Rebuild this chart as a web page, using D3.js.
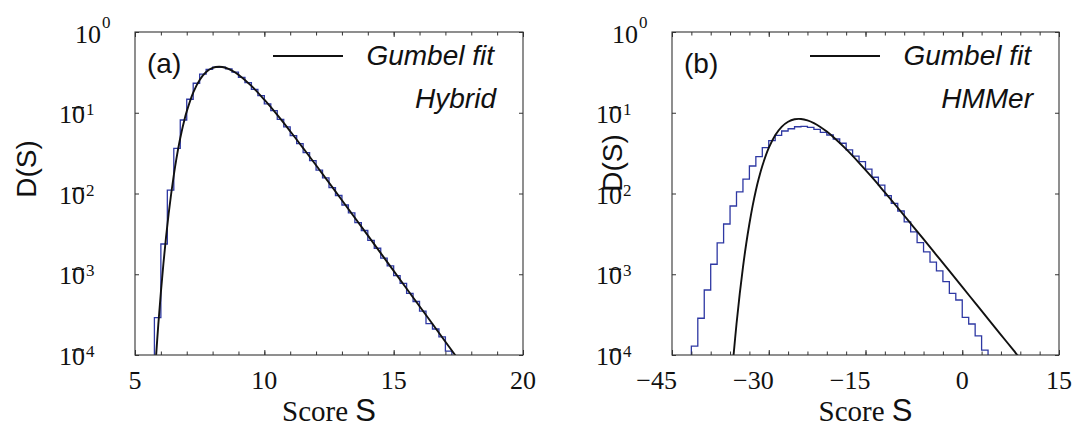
<!DOCTYPE html>
<html><head><meta charset="utf-8">
<script src="https://cdn.jsdelivr.net/npm/d3@7"></script>
<style>body{margin:0;background:#fff}</style>
</head><body>
<svg id="c" width="1074" height="430"></svg>
<script>
// ---------- data ----------
const histA_bins = [5.75,6.00,6.25,6.50,6.75,7.00,7.25,7.50,7.75,8.00,8.25,8.50,8.75,9.00,9.25,9.50,9.75,10.00,10.25,10.50,10.75,11.00,11.25,11.50,11.75,12.00,12.25,12.50,12.75,13.00,13.25,13.50,13.75,14.00,14.25,14.50,14.75,15.00,15.25,15.50,15.75,16.00,16.25,16.50,16.75,17.00];
const histA_width = 0.25;
const histA_D = [2.9e-4,2.37e-3,1.1e-2,3.63e-2,8.13e-2,0.147,0.232,0.300,0.345,0.366,0.368,0.350,0.318,0.274,0.236,0.195,0.163,0.129,0.106,0.0830,0.0668,0.0520,0.0415,0.0320,0.0256,0.0195,0.0156,0.0118,0.00945,0.00720,0.00575,0.00435,0.00348,0.00262,0.00210,0.00158,0.00127,9.6e-4,7.7e-4,5.8e-4,4.6e-4,3.5e-4,2.45e-4,2.1e-4,1.68e-4,1.12e-4];
const fitA_S = [5.8,5.9,6.0,6.1,6.2,6.3,6.4,6.5,6.6,6.7,6.8,6.9,7.0,7.25,7.5,7.75,8.0,8.25,8.5,8.75,9.0,9.5,10,10.5,11,11.5,12,13,14,15,16,17,17.5];
const fitA_D = [8.3e-5,2.36e-4,5.97e-4,1.37e-3,2.88e-3,5.58e-3,1.0e-2,1.69e-2,2.68e-2,4.04e-2,5.78e-2,7.91e-2,0.104,0.178,0.255,0.319,0.359,0.372,0.361,0.333,0.296,0.215,0.145,0.0939,0.059,0.0365,0.0224,8.26e-3,3.03e-3,1.10e-3,4.02e-4,1.46e-4,8.8e-5];

const histB_bins = [-42,-41,-40,-39,-38,-37,-36,-35,-34,-33,-32,-31,-30,-29,-28,-27,-26,-25,-24,-23,-22,-21,-20,-19,-18,-17,-16,-15,-14,-13,-12,-11,-10,-9,-8,-7,-6,-5,-4,-3,-2,-1,0,1,2,3];
const histB_width = 1;
const histB_D = [1.29e-4,2.85e-4,6.38e-4,1.33e-3,2.44e-3,4.19e-3,7.0e-3,1.05e-2,1.51e-2,2.19e-2,2.86e-2,3.69e-2,4.51e-2,5.26e-2,5.94e-2,6.34e-2,6.71e-2,6.79e-2,6.6e-2,6.24e-2,5.73e-2,5.3e-2,4.73e-2,4.19e-2,3.46e-2,2.91e-2,2.48e-2,2.0e-2,1.59e-2,1.27e-2,9.4e-3,7.56e-3,6.07e-3,4.44e-3,3.34e-3,2.47e-3,1.89e-3,1.41e-3,1.1e-3,8.09e-4,5.81e-4,4.8e-4,2.93e-4,2.42e-4,1.73e-4,1.15e-4];
const fitB_S = [-35.5,-35,-34.5,-34,-33.5,-33,-32.5,-32,-31.5,-31,-30,-29,-28,-27,-26,-25,-24,-23,-22,-21,-20,-18,-16,-14,-12,-10,-8,-6,-4,-2,0,2,4,6,8,8.5,9];
const fitB_D = [9.1e-5,2.42e-4,5.73e-4,1.22e-3,2.37e-3,4.22e-3,7.02e-3,1.09e-2,1.585e-2,2.19e-2,3.66e-2,5.27e-2,6.7e-2,7.74e-2,8.30e-2,8.37e-2,8.04e-2,7.44e-2,6.67e-2,5.84e-2,5.01e-2,3.54e-2,2.40e-2,1.59e-2,1.03e-2,6.66e-3,4.26e-3,2.72e-3,1.73e-3,1.10e-3,6.98e-4,4.42e-4,2.80e-4,1.78e-4,1.13e-4,1.005e-4,8.97e-5];

const xDomainA = [5,20], xDomainB = [-45,15];
const xTicksA = [5,10,15,20], xMinorA = [5,6,7,8,9,10,11,12,13,14,15,16,17,18,19,20];
const xTicksB = [-45,-30,-15,0,15], xMinorB = [-45,-42,-39,-36,-33,-30,-27,-24,-21,-18,-15,-12,-9,-6,-3,0,3,6,9,12,15];
const yExps = [0,-1,-2,-3,-4];
const yDomain = [1e-4,1];
const legendText = "Gumbel fit";
const panelTags = ["(a)","(b)"];
const methodNames = ["Hybrid","HMMer"];
const yTitle = "D(S)";
const xTitleWord = "Score ", xTitleSym = "S";

// ---------- drawing ----------
const svg = d3.select("#c");
const SERIF = "'Liberation Serif','Times New Roman',serif";
const SANS = "'Liberation Sans',Arial,Helvetica,sans-serif";
const BLUE = "#2e38a3";

function panel(o){
  const x = d3.scaleLinear().domain(o.xDomain).range(o.xRange);
  const y = d3.scaleLog().domain(yDomain).range([355,32]);
  const [L,R] = o.xRange, [B,T] = y.range();
  const g = svg.append("g");
  const cid = "clip"+o.id;
  svg.append("clipPath").attr("id",cid).append("rect")
    .attr("x",L).attr("y",T).attr("width",R-L).attr("height",B-T);

  // histogram (step outline)
  const pts = [[x(o.bins[0]),B]];
  o.bins.forEach((b,i)=>{ pts.push([x(b),y(o.hist[i])]); pts.push([x(b+o.bw),y(o.hist[i])]); });
  pts.push([x(o.bins[o.bins.length-1]+o.bw),B]);
  g.append("path").attr("clip-path",`url(#${cid})`)
    .attr("d",d3.line()(pts)).attr("fill","none").attr("stroke",BLUE).attr("stroke-width",1.3);

  // fit curve
  const line = d3.line().x((d,i)=>x(o.fitS[i])).y((d,i)=>y(o.fitD[i])).curve(d3.curveCatmullRom.alpha(0.5));
  g.append("path").attr("clip-path",`url(#${cid})`)
    .attr("d",line(o.fitS)).attr("fill","none").attr("stroke","#111").attr("stroke-width",1.9);

  // frame
  g.append("rect").attr("x",L).attr("y",T).attr("width",R-L).attr("height",B-T)
    .attr("fill","none").attr("stroke","#333").attr("stroke-width",1.1);

  // ticks (inward) via axes
  const tk = (sel)=>{ sel.select(".domain").remove(); sel.selectAll("line").attr("stroke","#333"); sel.selectAll("text").remove(); };
  g.append("g").attr("transform",`translate(0,${B})`).call(d3.axisBottom(x).tickValues(o.xMinor).tickSizeInner(-3.5).tickSizeOuter(0)).call(tk);
  g.append("g").attr("transform",`translate(0,${B})`).call(d3.axisBottom(x).tickValues(o.xTicks).tickSizeInner(-5).tickSizeOuter(0)).call(tk);
  g.append("g").attr("transform",`translate(0,${T})`).call(d3.axisTop(x).tickValues(o.xMinor).tickSizeInner(-3.5).tickSizeOuter(0)).call(tk);
  g.append("g").attr("transform",`translate(0,${T})`).call(d3.axisTop(x).tickValues(o.xTicks).tickSizeInner(-5).tickSizeOuter(0)).call(tk);
  const decs = yExps.map(e=>Math.pow(10,e));
  g.append("g").attr("transform",`translate(${L},0)`).call(d3.axisLeft(y).tickValues(decs).tickSizeInner(-4).tickSizeOuter(0)).call(tk);
  g.append("g").attr("transform",`translate(${R},0)`).call(d3.axisRight(y).tickValues(decs).tickSizeInner(-4).tickSizeOuter(0)).call(tk);

  // x tick labels
  o.xTicks.forEach(v=>{
    const neg = v<0;
    g.append("text").attr("x",x(v)+(neg?5:0)).attr("y",389)
      .attr("text-anchor",neg?"end":"middle").attr("font-family",SERIF).attr("font-size",26).attr("fill","#111")
      .text(neg?("\u2212"+Math.abs(v)):String(v));
  });

  // y tick labels 10^e; the exponent's minus is drawn as a bar over the 0
  yExps.forEach(e=>{
    const yt = y(Math.pow(10,e));
    const x0 = e===0 ? L-60 : L-76;
    g.append("text").attr("x",x0).attr("y",yt+(e===0?11:10)).attr("text-anchor","start")
      .attr("font-family",SERIF).attr("font-size",26).attr("fill","#111").text("10");
    if(e!==0){
      g.append("line").attr("x1",x0+13).attr("x2",x0+25).attr("y1",yt-5).attr("y2",yt-5)
        .attr("stroke","#111").attr("stroke-width",1.4);
    }
    g.append("text").attr("x",x0+27).attr("y",yt+(e===0?-4:2)).attr("text-anchor","start")
      .attr("font-family",SERIF).attr("font-size",17).attr("fill","#111").text(String(Math.abs(e)));
  });

  // y title
  g.append("text").attr("transform",`translate(${o.yTitleX},${o.yTitleY}) rotate(-90)`)
    .attr("text-anchor","middle").attr("font-family",SANS).attr("font-size",28).attr("fill","#111").text(yTitle);

  // x title
  const xt = g.append("text").attr("x",(L+R)/2).attr("y",421).attr("text-anchor","middle").attr("fill","#111");
  xt.append("tspan").attr("font-family",SERIF).attr("font-size",29).text(xTitleWord);
  xt.append("tspan").attr("font-family",SANS).attr("font-size",31).text(xTitleSym);

  // panel tag
  g.append("text").attr("x",L+12).attr("y",73).attr("font-family",SANS).attr("font-size",28).attr("fill","#111").text(o.tag);

  // legend
  g.append("line").attr("x1",L+138).attr("x2",L+208).attr("y1",56).attr("y2",56).attr("stroke","#111").attr("stroke-width",1.9);
  g.append("text").attr("x",L+359).attr("y",65).attr("text-anchor","end").attr("font-family",SANS).attr("font-style","italic")
    .attr("font-size",28).attr("fill","#111").text(legendText);
  g.append("text").attr("x",L+361).attr("y",108).attr("text-anchor","end").attr("font-family",SANS).attr("font-style","italic")
    .attr("font-size",28).attr("fill","#111").text(o.name);
}

panel({id:"A",xDomain:xDomainA,xRange:[135,523],bins:histA_bins,bw:histA_width,hist:histA_D,fitS:fitA_S,fitD:fitA_D,
  xTicks:xTicksA,xMinor:xMinorA,tag:panelTags[0],name:methodNames[0],yTitleX:36,yTitleY:169});
panel({id:"B",xDomain:xDomainB,xRange:[672,1059],bins:histB_bins,bw:histB_width,hist:histB_D,fitS:fitB_S,fitD:fitB_D,
  xTicks:xTicksB,xMinor:xMinorB,tag:panelTags[1],name:methodNames[1],yTitleX:622,yTitleY:163});
</script>
</body></html>
